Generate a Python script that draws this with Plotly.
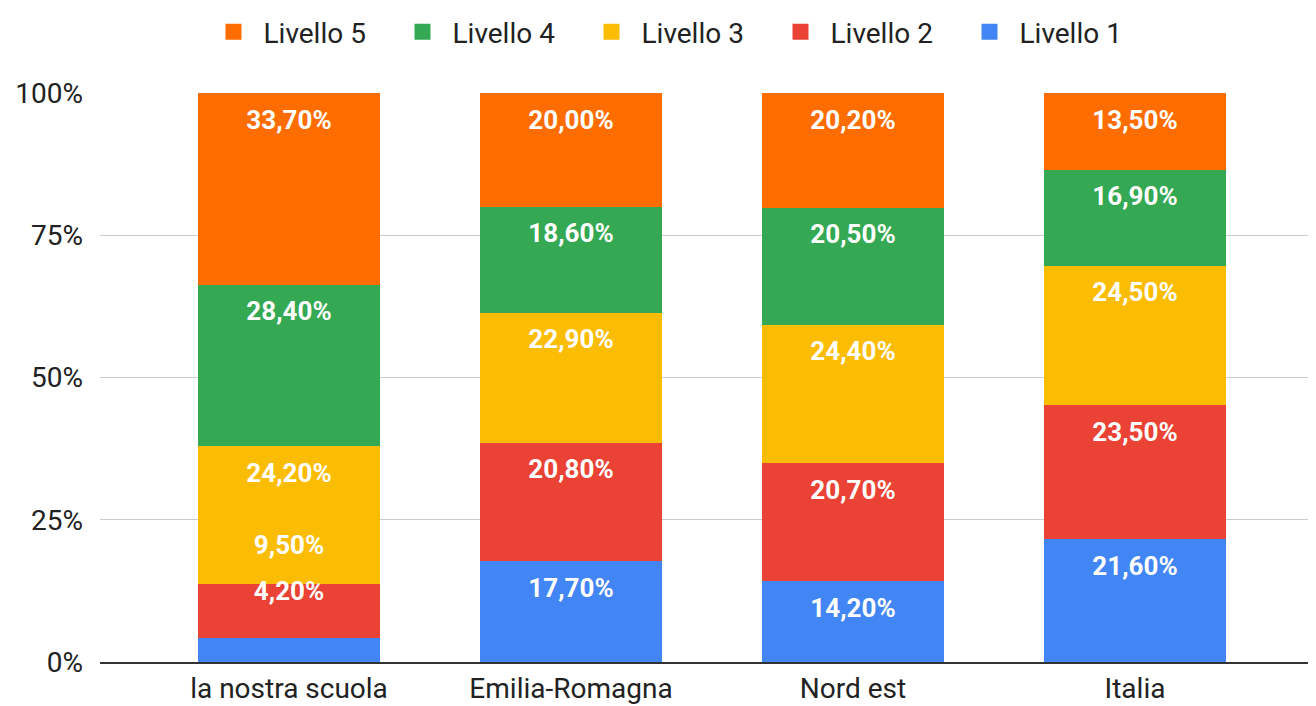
import plotly.graph_objects as go

# ---------------- data ----------------
categories = ["la nostra scuola", "Emilia-Romagna", "Nord est", "Italia"]
livello_1 = [4.2, 17.7, 14.2, 21.6]
livello_2 = [9.5, 20.8, 20.7, 23.5]
livello_3 = [24.2, 22.9, 24.4, 24.5]
livello_4 = [28.4, 18.6, 20.5, 16.9]
livello_5 = [33.7, 20.0, 20.2, 13.5]
series_names = ["Livello 1", "Livello 2", "Livello 3", "Livello 4", "Livello 5"]
y_ticks = [0, 25, 50, 75, 100]
y_tick_labels = ["0%", "25%", "50%", "75%", "100%"]

# ---------------- style ----------------
colors = ["#4285F4", "#EA4335", "#FBBC04", "#34A853", "#FF6D01"]
PAGE_OFF = 8  # default body margin of the html page
W, H = 1316 - PAGE_OFF, 706 - PAGE_OFF
M_L, M_R, M_T = 100 - PAGE_OFF, 0, 93 - PAGE_OFF
M_B = H - (662 - PAGE_OFF)
plot_h = H - M_T - M_B
plot_w = W - M_L - M_R
u_per_px = 100.0 / plot_h
band_px = 282.0
first_center_px = 189.0
x_left = -first_center_px / band_px
x_right = x_left + plot_w / band_px

FONT = "Roboto, Arial, sans-serif"

series = [livello_1, livello_2, livello_3, livello_4, livello_5]


def fmt(v):
    return f"{v:.2f}".replace(".", ",") + "%"


# label placement (near top of each segment, pushed up if segments are too small)
offset_u = 29 * u_per_px
gap_u = 46 * u_per_px
base_u = 69 * u_per_px
fit_u = 40 * u_per_px
label_y = [[0.0] * len(categories) for _ in series]
for ci in range(len(categories)):
    cum = 0.0
    prev = None
    for si, s in enumerate(series):
        v = s[ci]
        top = cum + v
        cands = []
        if v >= fit_u:
            cands.append(top - offset_u)
        if prev is not None:
            cands.append(prev + gap_u)
        else:
            if v < fit_u:
                cands.append(base_u)
        y = max(cands) if cands else top - offset_u
        label_y[si][ci] = y
        prev = y
        cum = top

fig = go.Figure()
for si, (name, s) in enumerate(zip(series_names, series)):
    fig.add_trace(go.Bar(
        name=name, x=list(range(len(categories))), y=s,
        marker=dict(color=colors[si], line=dict(width=0)),
        hoverinfo="skip", showlegend=False,
    ))
# legend proxies (larger square symbols)
for si, name in enumerate(series_names):
    fig.add_trace(go.Scatter(
        name=name, x=[None], y=[None], mode="markers",
        marker=dict(symbol="square", size=16, color=colors[si], line=dict(width=0)),
        showlegend=True, hoverinfo="skip",
    ))
for si, s in enumerate(series):
    fig.add_trace(go.Scatter(
        x=list(range(len(categories))), y=label_y[si],
        mode="text", text=[fmt(v) for v in s],
        textposition="middle center",
        textfont=dict(family=FONT, size=26, color="white", weight="bold"),
        showlegend=False, hoverinfo="skip", cliponaxis=False,
    ))

fig.update_layout(
    width=W, height=H,
    barmode="stack", bargap=0.358,
    margin=dict(l=M_L, r=M_R, t=M_T, b=M_B, pad=0, autoexpand=False),
    paper_bgcolor="white", plot_bgcolor="white",
    font=dict(family=FONT, color="#222222"),
    legend=dict(
        orientation="h", traceorder="reversed",
        x=(676 - PAGE_OFF) / W, xref="container", xanchor="center",
        y=1 - (32 - PAGE_OFF) / H, yref="container", yanchor="middle",
        font=dict(family=FONT, size=28, color="#222222"),
        entrywidth=124, itemwidth=50, itemsizing="trace",
    ),
    xaxis=dict(
        tickmode="array", tickvals=list(range(len(categories))), ticktext=categories,
        range=[x_left, x_right], showgrid=False, zeroline=False,
        showline=True, linecolor="#333333", linewidth=2,
        tickfont=dict(family=FONT, size=28, color="#222222"),
        ticks="", fixedrange=True, automargin=False, tickangle=0,
    ),
    yaxis=dict(
        range=[0, 100], tickvals=y_ticks, ticktext=y_tick_labels,
        showgrid=True, gridcolor="#cccccc", gridwidth=1,
        zeroline=False, showline=False,
        tickfont=dict(family=FONT, size=28, color="#222222"),
        ticklabelstandoff=16, fixedrange=True, automargin=False,
    ),
)

fig.write_html("out.html")
